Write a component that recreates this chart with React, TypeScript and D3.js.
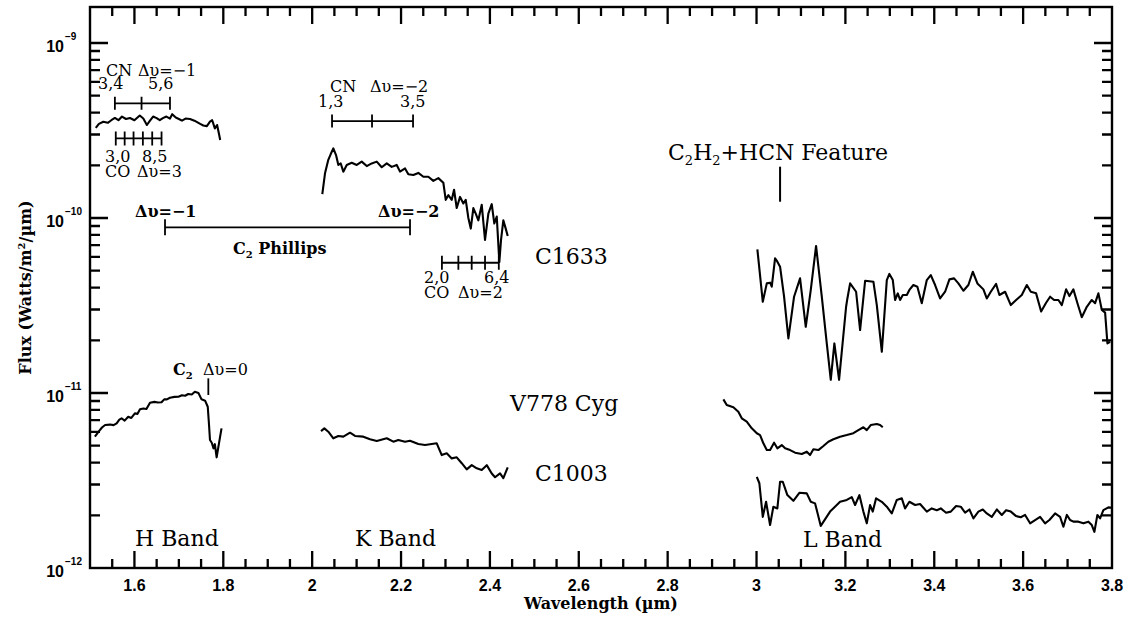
import React from "react";
import * as d3 from "d3";

// ---------- data (wavelength in µm, flux in W/m²/µm) ----------
const xTickValues = [1.6, 1.8, 2, 2.2, 2.4, 2.6, 2.8, 3, 3.2, 3.4, 3.6, 3.8];
const yDecadeExponents = [-12, -11, -10, -9];

const c1633H: [number, number][] = [
  [1.513, 3.27e-10], [1.52, 3.45e-10], [1.53, 3.55e-10], [1.54, 3.5e-10], [1.548, 3.62e-10],
  [1.556, 3.73e-10], [1.564, 3.62e-10], [1.572, 3.8e-10], [1.581, 3.68e-10], [1.59, 3.73e-10],
  [1.6, 3.62e-10], [1.612, 3.85e-10], [1.62, 3.7e-10], [1.628, 3.4e-10], [1.635, 3.6e-10],
  [1.642, 3.8e-10], [1.65, 3.72e-10], [1.657, 3.62e-10], [1.664, 3.72e-10], [1.672, 3.8e-10],
  [1.68, 3.7e-10], [1.685, 3.92e-10], [1.693, 3.75e-10], [1.7, 3.68e-10], [1.707, 3.6e-10],
  [1.715, 3.7e-10], [1.725, 3.68e-10], [1.735, 3.6e-10], [1.748, 3.45e-10], [1.755, 3.38e-10],
  [1.763, 3.35e-10], [1.77, 3.55e-10], [1.775, 3.62e-10], [1.781, 3.25e-10], [1.786, 3.4e-10],
  [1.79, 3.05e-10], [1.793, 2.79e-10],
];

const c1003H: [number, number][] = [
  [1.511, 5.63e-12], [1.519, 6.0e-12], [1.527, 6.35e-12], [1.534, 6.56e-12], [1.545, 6.6e-12],
  [1.553, 6.55e-12], [1.56, 6.71e-12], [1.566, 7.05e-12], [1.571, 7.17e-12], [1.578, 6.95e-12],
  [1.586, 7.32e-12], [1.593, 7.2e-12], [1.601, 7.65e-12], [1.607, 7.6e-12], [1.6125, 8.07e-12],
  [1.62, 8.15e-12], [1.627, 8.1e-12], [1.635, 8.8e-12], [1.645, 8.9e-12], [1.653, 8.82e-12],
  [1.661, 8.85e-12], [1.667, 9.2e-12], [1.673, 9.2e-12], [1.68, 9.4e-12], [1.69, 9.5e-12],
  [1.699, 9.52e-12], [1.707, 9.7e-12], [1.714, 9.65e-12], [1.721, 9.87e-12], [1.729, 9.8e-12],
  [1.736, 1.017e-11], [1.744, 1.0e-11], [1.751, 9.2e-12], [1.759, 9.04e-12], [1.765, 8.35e-12],
  [1.768, 6.5e-12], [1.77, 5.39e-12], [1.774, 5.2e-12], [1.778, 4.83e-12], [1.781, 5.1e-12],
  [1.785, 4.29e-12], [1.789, 4.94e-12], [1.796, 6.28e-12],
];

const c1633K: [number, number][] = [
  [2.0228, 1.37e-10], [2.0289, 1.8e-10], [2.0363, 2.15e-10], [2.0418, 2.32e-10], [2.0476, 2.5e-10],
  [2.0537, 2.29e-10], [2.0589, 2.01e-10], [2.0643, 2.05e-10], [2.0701, 1.84e-10], [2.0778, 2.01e-10],
  [2.089, 2.07e-10], [2.1003, 2.01e-10], [2.1115, 2.1e-10], [2.1228, 1.98e-10], [2.134, 2.05e-10],
  [2.1453, 2.1e-10], [2.1565, 1.95e-10], [2.1678, 2.05e-10], [2.179, 1.96e-10], [2.1903, 2.01e-10],
  [2.1977, 1.84e-10], [2.209, 1.92e-10], [2.2164, 1.78e-10], [2.2277, 1.76e-10], [2.2389, 1.81e-10],
  [2.2502, 1.72e-10], [2.2614, 1.72e-10], [2.2727, 1.63e-10], [2.2839, 1.69e-10], [2.2952, 1.59e-10],
  [2.3006, 1.27e-10], [2.3064, 1.35e-10], [2.3141, 1.27e-10], [2.3193, 1.45e-10], [2.3253, 1.14e-10],
  [2.3328, 1.32e-10], [2.3402, 1.21e-10], [2.3456, 1.27e-10], [2.3515, 1.0e-10], [2.3569, 8.7e-11],
  [2.3627, 1.14e-10], [2.3681, 1.06e-10], [2.374, 9.7e-11], [2.3816, 1.19e-10], [2.389, 7.5e-11],
  [2.3965, 1.06e-10], [2.4041, 1.2e-10], [2.4099, 9.3e-11], [2.4154, 1.02e-10], [2.4212, 5.6e-11],
  [2.425, 7.5e-11], [2.4302, 9.7e-11], [2.4356, 8.7e-11], [2.4401, 7.9e-11],
];

const c1003K: [number, number][] = [
  [2.0199, 6.06e-12], [2.0274, 6.28e-12], [2.0363, 6.01e-12], [2.0476, 5.51e-12], [2.0589, 5.68e-12],
  [2.0701, 5.63e-12], [2.0852, 5.93e-12], [2.0964, 5.68e-12], [2.1151, 5.63e-12], [2.1302, 5.44e-12],
  [2.1453, 5.32e-12], [2.1678, 5.51e-12], [2.1827, 5.27e-12], [2.1939, 5.39e-12], [2.209, 5.27e-12],
  [2.2202, 5.34e-12], [2.2389, 5.11e-12], [2.254, 5.04e-12], [2.2691, 5.11e-12], [2.2803, 5.16e-12],
  [2.2916, 4.42e-12], [2.3028, 4.52e-12], [2.3141, 4.23e-12], [2.3253, 4.29e-12], [2.3366, 3.97e-12],
  [2.3478, 3.66e-12], [2.3591, 3.87e-12], [2.3704, 3.71e-12], [2.3816, 3.63e-12], [2.3929, 3.87e-12],
  [2.4041, 3.47e-12], [2.4116, 3.3e-12], [2.4228, 3.47e-12], [2.4302, 3.26e-12], [2.4401, 3.76e-12],
];

const c1633L: [number, number][] = [
  [3.0019, 6.62e-11], [3.0141, 3.32e-11], [3.0231, 4.23e-11], [3.0305, 4.27e-11], [3.0343, 4.05e-11],
  [3.0418, 5.89e-11], [3.0469, 5.63e-11], [3.053, 5.27e-11], [3.062, 3.55e-11], [3.0717, 2.05e-11],
  [3.0845, 3.55e-11], [3.098, 4.52e-11], [3.1108, 2.39e-11], [3.1221, 3.88e-11], [3.134, 6.92e-11],
  [3.1469, 3.55e-11], [3.1581, 1.92e-11], [3.1671, 1.19e-11], [3.1752, 1.92e-11], [3.1858, 1.19e-11],
  [3.2016, 3.11e-11], [3.2045, 3.47e-11], [3.2106, 4.23e-11], [3.2241, 3.79e-11], [3.2331, 2.29e-11],
  [3.2444, 4.38e-11], [3.2631, 4.32e-11], [3.2707, 3.18e-11], [3.282, 1.72e-11], [3.2932, 4.42e-11],
  [3.299, 4.79e-11], [3.3067, 4.42e-11], [3.3118, 3.4e-11], [3.3179, 3.71e-11], [3.3231, 3.4e-11],
  [3.3292, 3.63e-11], [3.3382, 3.63e-11], [3.344, 3.88e-11], [3.353, 4.14e-11], [3.362, 4.05e-11],
  [3.3719, 3.26e-11], [3.3832, 4.42e-11], [3.3922, 4.72e-11], [3.4019, 4.14e-11], [3.4131, 3.47e-11],
  [3.4244, 3.79e-11], [3.4341, 4.46e-11], [3.4446, 4.52e-11], [3.4543, 4.23e-11], [3.4656, 3.84e-11],
  [3.4768, 4.14e-11], [3.4867, 4.93e-11], [3.4971, 4.23e-11], [3.5106, 3.91e-11], [3.5182, 3.47e-11],
  [3.5272, 3.79e-11], [3.5392, 4.2e-11], [3.5466, 3.63e-11], [3.5594, 3.79e-11], [3.5723, 3.18e-11],
  [3.5842, 3.4e-11], [3.597, 3.63e-11], [3.6083, 4.14e-11], [3.6173, 3.79e-11], [3.6292, 3.71e-11],
  [3.6405, 2.92e-11], [3.6517, 3.28e-11], [3.6607, 3.55e-11], [3.6697, 3.4e-11], [3.6794, 3.4e-11],
  [3.6871, 3.18e-11], [3.6968, 3.91e-11], [3.7042, 3.58e-11], [3.7131, 3.91e-11], [3.7222, 3.26e-11],
  [3.732, 2.71e-11], [3.7433, 3.11e-11], [3.7545, 3.4e-11], [3.762, 3.26e-11], [3.7694, 3.71e-11],
  [3.7771, 2.98e-11], [3.7845, 2.88e-11], [3.7897, 1.92e-11], [3.7958, 1.96e-11],
];

const v778Cyg: [number, number][] = [
  [2.9254, 9.2e-12], [2.933, 8.54e-12], [2.9479, 8.29e-12], [2.9591, 7.82e-12], [2.9668, 7.17e-12],
  [2.978, 6.86e-12], [2.9893, 6.28e-12], [3.0006, 5.89e-12], [3.008, 5.75e-12], [3.0154, 5.16e-12],
  [3.0231, 4.72e-12], [3.0305, 4.72e-12], [3.0395, 5.2e-12], [3.0469, 4.83e-12], [3.0568, 5.04e-12],
  [3.0643, 4.83e-12], [3.0755, 4.72e-12], [3.0868, 4.56e-12], [3.1019, 4.48e-12], [3.1131, 4.62e-12],
  [3.1205, 4.42e-12], [3.128, 4.77e-12], [3.1392, 4.72e-12], [3.1505, 4.98e-12], [3.1617, 5.27e-12],
  [3.173, 5.44e-12], [3.188, 5.63e-12], [3.2031, 5.75e-12], [3.218, 5.89e-12], [3.2292, 6.14e-12],
  [3.2405, 6.37e-12], [3.2481, 6.14e-12], [3.2571, 6.56e-12], [3.2707, 6.65e-12], [3.2781, 6.56e-12],
  [3.2841, 6.37e-12],
];

const c1003L: [number, number][] = [
  [3.0006, 3.32e-12], [3.0064, 3.05e-12], [3.0141, 1.96e-12], [3.0215, 2.39e-12], [3.0305, 1.76e-12],
  [3.0379, 2.24e-12], [3.0469, 2.19e-12], [3.053, 3.11e-12], [3.0591, 3.11e-12], [3.0694, 2.61e-12],
  [3.0829, 2.42e-12], [3.0964, 2.69e-12], [3.1131, 2.67e-12], [3.1221, 2.39e-12], [3.1318, 2.34e-12],
  [3.1446, 1.74e-12], [3.1655, 2.1e-12], [3.188, 2.39e-12], [3.2031, 2.45e-12], [3.2144, 2.54e-12],
  [3.2218, 2.29e-12], [3.2315, 2.61e-12], [3.2405, 2.1e-12], [3.2481, 1.8e-12], [3.2556, 2.29e-12],
  [3.2616, 2.1e-12], [3.2691, 2.5e-12], [3.2819, 2.39e-12], [3.2932, 2.24e-12], [3.3044, 2.05e-12],
  [3.3157, 2.45e-12], [3.3269, 2.5e-12], [3.3343, 2.19e-12], [3.344, 2.39e-12], [3.3569, 2.29e-12],
  [3.3681, 2.32e-12], [3.3832, 2.1e-12], [3.3944, 2.19e-12], [3.4057, 2.14e-12], [3.4147, 2.19e-12],
  [3.4266, 2.07e-12], [3.4372, 2.1e-12], [3.4491, 2.26e-12], [3.4597, 2.24e-12], [3.4694, 2.07e-12],
  [3.4791, 2.16e-12], [3.4881, 1.92e-12], [3.4993, 2.1e-12], [3.5092, 2.16e-12], [3.5182, 2.05e-12],
  [3.5295, 1.96e-12], [3.5408, 2.16e-12], [3.552, 2.01e-12], [3.5617, 2.14e-12], [3.5723, 2.1e-12],
  [3.5842, 1.98e-12], [3.5947, 1.95e-12], [3.6044, 2.01e-12], [3.6157, 1.8e-12], [3.6269, 1.88e-12],
  [3.6382, 1.96e-12], [3.6494, 1.8e-12], [3.6591, 1.88e-12], [3.6719, 2.05e-12], [3.6832, 1.96e-12],
  [3.6906, 1.72e-12], [3.6983, 2.01e-12], [3.7057, 1.88e-12], [3.7131, 1.84e-12], [3.7244, 1.84e-12],
  [3.7357, 1.8e-12], [3.7469, 1.84e-12], [3.7545, 1.76e-12], [3.7604, 1.61e-12], [3.7671, 2.01e-12],
  [3.7732, 1.92e-12], [3.7806, 2.14e-12], [3.7919, 2.22e-12], [3.7995, 2.21e-12],
];

const spectra = [c1633H, c1003H, c1633K, c1003K, c1633L, v778Cyg, c1003L];

// band-head markers (µm)
const cnMinus1Heads = [1.556, 1.616, 1.68];
const coDelta3Heads = [1.558, 1.578, 1.598, 1.619, 1.64, 1.661];
const cnMinus2Heads = [2.0447, 2.1347, 2.227];
const c2PhillipsRange = [1.6688, 2.2202];
const coDelta2Heads = [2.292, 2.329, 2.359, 2.389, 2.42];
const c2Delta0Head = 1.7663;
const c2h2HcnFeature = 3.053;

// marker flux levels
const cnMinus1Level = 4.52e-10;
const coDelta3Level = 2.85e-10;
const cnMinus2Level = 3.58e-10;
const c2PhillipsLevel = 8.85e-11;
const coDelta2Level = 5.55e-11;
const c2Delta0Span = [1.213e-11, 9.74e-12];
const c2h2HcnSpan = [1.964e-10, 1.239e-10];

const SERIF = "'DejaVu Serif', serif";
const SANS = "'Liberation Sans', Arial, sans-serif";

export default function App() {
  const left = 90, right = 1112, top = 7, bottom = 568;
  const x = d3.scaleLinear().domain([1.5, 3.8]).range([left, right]);
  const y = d3.scaleLog().domain([1e-12, 1.606e-9]).range([bottom, top]);
  const lineGen = d3.line<[number, number]>().x((d) => x(d[0])).y((d) => y(d[1]));

  const xMinor = d3.range(1, 46).map((i) => +(1.5 + i * 0.05).toFixed(2));
  const yTicks: { v: number; major: boolean }[] = [];
  yDecadeExponents.forEach((e) => {
    for (let m = 1; m <= 9; m++) {
      const v = m * Math.pow(10, e);
      if (v > 1e-12 * 1.0001 && v <= 1.606e-9) yTicks.push({ v, major: m === 1 });
    }
  });

  // all tick marks as one path
  const tp = d3.path();
  xMinor.forEach((v) => {
    const major = Math.round(v * 100) % 20 === 0;
    const len = major ? 17 : 9;
    const px = x(v);
    tp.moveTo(px, bottom);
    tp.lineTo(px, bottom - len);
    tp.moveTo(px, top);
    tp.lineTo(px, top + len);
  });
  yTicks.forEach((t) => {
    const len = t.major ? 18 : 10;
    const py = y(t.v);
    tp.moveTo(left, py);
    tp.lineTo(left + len, py);
    tp.moveTo(right, py);
    tp.lineTo(right - len, py);
  });
  const tickPath = tp.toString();

  const barPath = (heads: number[], level: number, hTick: number) => {
    const p = d3.path();
    const py = y(level);
    p.moveTo(x(heads[0]), py);
    p.lineTo(x(heads[heads.length - 1]), py);
    heads.forEach((h) => {
      p.moveTo(x(h), py - hTick);
      p.lineTo(x(h), py + hTick);
    });
    return p.toString();
  };
  const vPath = (w: number, span: number[]) => {
    const p = d3.path();
    p.moveTo(x(w), y(span[0]));
    p.lineTo(x(w), y(span[1]));
    return p.toString();
  };

  const small = { fontFamily: SERIF, fontSize: 16, fill: "#000" } as const;
  const big = { fontFamily: SERIF, fontSize: 22, fill: "#000" } as const;
  const mk = { fill: "none", stroke: "#000", strokeWidth: 1.8 } as const;

  return (
    <svg
      width={1126}
      height={617}
      viewBox="0 0 1126 617"
      style={{ position: "absolute", left: 0, top: 0, background: "#fff" }}
    >
      <rect x={0} y={0} width={1126} height={617} fill="#fff" />
      {/* spectra */}
      {spectra.map((s, i) => (
        <path key={i} d={lineGen(s) || ""} fill="none" stroke="#000" strokeWidth={2.1} strokeLinejoin="round" />
      ))}

      {/* ticks and frame */}
      <path d={tickPath} fill="none" stroke="#000" strokeWidth={2.3} />
      <rect x={left} y={top} width={right - left} height={bottom - top} fill="none" stroke="#000" strokeWidth={2.4} />

      {/* x tick labels */}
      {xTickValues.map((v) => (
        <text key={v} x={x(v)} y={591} fontFamily={SANS} fontWeight="bold" fontSize={16} textAnchor="middle">
          {String(+v.toFixed(1))}
        </text>
      ))}
      {/* y tick labels */}
      {yDecadeExponents.map((e) => {
        const py = y(Math.pow(10, e));
        return (
          <g key={e} fontFamily={SANS} fontWeight="bold">
            <text x={64} y={py + 9} fontSize={16} textAnchor="end">10</text>
            <text x={65} y={py - 3} fontSize={10}>{"\u2212" + Math.abs(e)}</text>
          </g>
        );
      })}

      {/* axis titles */}
      <text x={(left + right) / 2} y={609} textAnchor="middle" fontFamily={SERIF} fontWeight="bold" fontSize={16}>
        Wavelength (µm)
      </text>
      <text
        transform={`translate(31,${(top + bottom) / 2}) rotate(-90)`}
        textAnchor="middle"
        fontFamily={SERIF}
        fontWeight="bold"
        fontSize={16}
      >
        Flux (Watts/m<tspan dy={-6} fontSize={10}>2</tspan><tspan dy={6}>/µm)</tspan>
      </text>

      {/* annotation marker paths */}
      <path {...mk} d={barPath(cnMinus1Heads, cnMinus1Level, 6.5)} />
      <path {...mk} d={barPath(coDelta3Heads, coDelta3Level, 7)} />
      <path {...mk} d={barPath(cnMinus2Heads, cnMinus2Level, 6.5)} />
      <path {...mk} d={barPath(c2PhillipsRange, c2PhillipsLevel, 8)} />
      <path {...mk} d={barPath(coDelta2Heads, coDelta2Level, 7)} />
      <path {...mk} d={vPath(c2Delta0Head, c2Delta0Span)} />
      <path {...mk} strokeWidth={2} d={vPath(c2h2HcnFeature, c2h2HcnSpan)} />

      {/* CN Δυ=-1 */}
      <text {...small} x={106} y={76}>CN</text>
      <text {...small} x={138} y={76}>Δυ=−1</text>
      <text {...small} x={98} y={89}>3,4</text>
      <text {...small} x={148} y={89}>5,6</text>

      {/* CO Δυ=3 */}
      <text {...small} x={105} y={162}>3,0</text>
      <text {...small} x={142} y={162}>8,5</text>
      <text {...small} x={105} y={177}>CO</text>
      <text {...small} x={137} y={177}>Δυ=3</text>

      {/* CN Δυ=-2 */}
      <text {...small} x={330} y={92}>CN</text>
      <text {...small} x={370} y={92}>Δυ=−2</text>
      <text {...small} x={318} y={107}>1,3</text>
      <text {...small} x={400} y={107}>3,5</text>

      {/* C2 Phillips */}
      <text {...small} fontWeight="bold" x={135} y={217}>Δυ=−1</text>
      <text {...small} fontWeight="bold" x={378} y={217}>Δυ=−2</text>
      <text {...small} fontWeight="bold" x={233} y={254}>
        C<tspan fontSize={10} dy={4}>2</tspan><tspan dy={-4}> Phillips</tspan>
      </text>

      {/* CO Δυ=2 */}
      <text {...small} x={424} y={283}>2,0</text>
      <text {...small} x={484} y={283}>6,4</text>
      <text {...small} x={424} y={298}>CO</text>
      <text {...small} x={458} y={298}>Δυ=2</text>

      {/* C2 Δυ=0 */}
      <text {...small} fontWeight="bold" x={173} y={375}>
        C<tspan fontSize={10} dy={4}>2</tspan>
      </text>
      <text {...small} x={203} y={375}>Δυ=0</text>

      {/* C2H2+HCN feature */}
      <text {...big} x={668} y={160}>
        C<tspan fontSize={13} dy={5}>2</tspan><tspan dy={-5}>H</tspan><tspan fontSize={13} dy={5}>2</tspan><tspan dy={-5}>+HCN Feature</tspan>
      </text>

      {/* object / band labels */}
      <text {...big} x={535} y={264}>C1633</text>
      <text {...big} x={510} y={411}>V778 Cyg</text>
      <text {...big} x={535} y={481}>C1003</text>
      <text {...big} x={135} y={546}>H Band</text>
      <text {...big} x={355} y={546}>K Band</text>
      <text {...big} x={803} y={547}>L Band</text>
    </svg>
  );
}
